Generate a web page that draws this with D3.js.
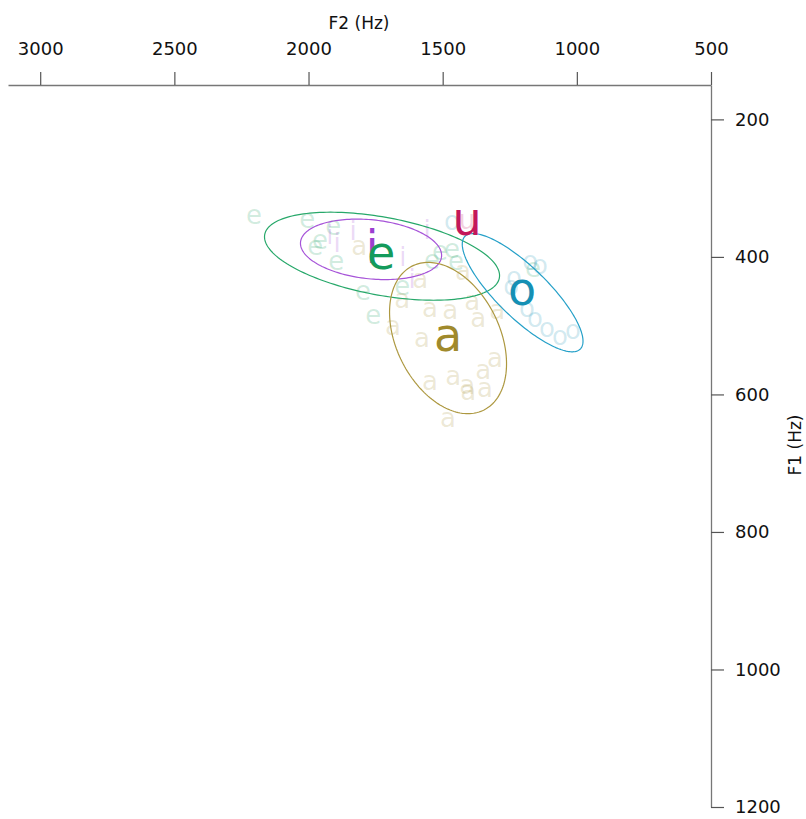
<!DOCTYPE html>
<html>
<head>
<meta charset="utf-8">
<script src="https://cdn.jsdelivr.net/npm/d3@7"></script>
<style>
  body { margin: 0; background: #fff; }
  text { font-family: "DejaVu Sans", sans-serif; }
</style>
</head>
<body>
<div id="chart"></div>
<script>
// vowel categories and colours
var vowels = ["i", "e", "a", "o", "u"];
var colors = {i: "#9b3fd0", e: "#149b5c", a: "#a08a2c", o: "#1590b4", u: "#c4175a"};
var ellipseColors = {i: "#a653d8", e: "#27a86a", a: "#ad9840", o: "#25a0c8"};

// individual tokens, [F2, F1] in Hz
var tokens_i = [[1920, 371], [1893, 383], [1834, 365], [1558, 364], [1648, 402], [1614, 434]];
var tokens_e = [[2203, 341], [2005, 348], [1908, 358], [1957, 378], [1975, 387], [1897, 409],
  [1797, 452], [1759, 487], [1651, 445], [1540, 407], [1510, 394], [1465, 391], [1450, 409], [1163, 419]];
var tokens_a = [[1811, 386], [1584, 434], [1651, 463], [1547, 477], [1472, 480], [1390, 466],
  [1368, 492], [1297, 480], [1685, 503], [1577, 521], [1305, 550], [1349, 567], [1547, 583],
  [1461, 576], [1409, 589], [1405, 598], [1342, 593], [1480, 637], [1424, 423]];
var tokens_o = [[1465, 351], [1174, 409], [1137, 415], [1234, 431], [1245, 445], [1186, 477],
  [1156, 492], [1111, 506], [1063, 518], [1014, 509]];
var tokens_u = [[1409, 349]];

// vowel means [F2, F1]
var means = {i: [1763, 390], e: [1729, 399], a: [1480, 518], o: [1204, 451], u: [1409, 349]};

// ellipse half extents (F2 Hz, F1 Hz) and correlation
var ellipses = [
  {vowel: "e", f2: 1726, f1: 399, hx: 438, hy: 64, rho: -0.44},
  {vowel: "i", f2: 1767, f1: 389, hx: 263, hy: 44, rho: -0.2},
  {vowel: "a", f2: 1480, f1: 518, hx: 218, hy: 110, rho: -0.34},
  {vowel: "o", f2: 1202, f1: 452, hx: 225, hy: 86, rho: -0.82}
];

var f2Ticks = [3000, 2500, 2000, 1500, 1000, 500];
var f1Ticks = [200, 400, 600, 800, 1000, 1200];

var svgWidth = 806;
var svgHeight = 819;

var svg = d3.select("#chart")
  .append("svg")
  .attr("width", svgWidth)
  .attr("height", svgHeight);

var xScale = d3.scaleLinear().domain([3120, 500]).range([8, 711]);
var yScale = d3.scaleLinear().domain([150, 1200]).range([85, 807]);

// top axis (F2)
var topAxis = d3.axisTop(xScale).tickValues(f2Ticks).tickFormat(d3.format("d"))
  .tickSize(13).tickPadding(17).tickSizeOuter(0);
var gx = svg.append("g")
  .attr("transform", "translate(0,85)")
  .call(topAxis);

// right axis (F1)
var rightAxis = d3.axisRight(yScale).tickValues(f1Ticks).tickFormat(d3.format("d"))
  .tickSize(13).tickPadding(11).tickSizeOuter(0);
var gy = svg.append("g")
  .attr("transform", "translate(711,0)")
  .call(rightAxis);

[gx, gy].forEach(function(g) {
  g.select(".domain").attr("stroke", "#777").attr("stroke-width", 1.3);
  g.selectAll(".tick line").attr("stroke", "#555").attr("stroke-width", 1.2);
  g.selectAll(".tick text").attr("font-size", 18).attr("fill", "#111")
    .attr("font-family", "DejaVu Sans, sans-serif");
});

svg.append("text")
  .attr("x", 359)
  .attr("y", 29)
  .attr("text-anchor", "middle")
  .attr("font-size", 17)
  .attr("fill", "#111")
  .text("F2 (Hz)");

svg.append("text")
  .attr("transform", "translate(801,445) rotate(-90)")
  .attr("text-anchor", "middle")
  .attr("font-size", 17)
  .attr("fill", "#111")
  .text("F1 (Hz)");

var plot = svg.append("g");

// tokens
var tokenSets = {i: tokens_i, e: tokens_e, a: tokens_a, o: tokens_o, u: tokens_u};
["e", "i", "a", "o", "u"].forEach(function(v) {
  plot.selectAll(".tok-" + v)
    .data(tokenSets[v])
    .enter()
    .append("text")
    .attr("class", "tok-" + v)
    .attr("x", d => xScale(d[0]))
    .attr("y", d => yScale(d[1]))
    .attr("dy", "0.28em")
    .attr("text-anchor", "middle")
    .attr("font-size", 26)
    .attr("fill", colors[v])
    .attr("fill-opacity", 0.2)
    .text(v);
});

// ellipses from mean, half extents and correlation
var line = d3.line().curve(d3.curveLinearClosed);
ellipses.forEach(function(el) {
  var pts = d3.range(0, 360, 2).map(function(deg) {
    var t = deg * Math.PI / 180;
    var c = Math.cos(t), s = Math.sin(t);
    var f2 = el.f2 + el.hx * c;
    var f1 = el.f1 + el.hy * (el.rho * c + Math.sqrt(1 - el.rho * el.rho) * s);
    return [xScale(f2), yScale(f1)];
  });
  plot.append("path")
    .attr("d", line(pts))
    .attr("fill", "none")
    .attr("stroke", ellipseColors[el.vowel])
    .attr("stroke-width", 1.2);
});

// mean labels
plot.selectAll(".mean")
  .data(vowels)
  .enter()
  .append("text")
  .attr("class", "mean")
  .attr("x", d => xScale(means[d][0]))
  .attr("y", d => yScale(means[d][1]))
  .attr("dy", "0.28em")
  .attr("text-anchor", "middle")
  .attr("font-size", 46)
  .attr("fill", d => colors[d])
  .text(d => d);
</script>
</body>
</html>
